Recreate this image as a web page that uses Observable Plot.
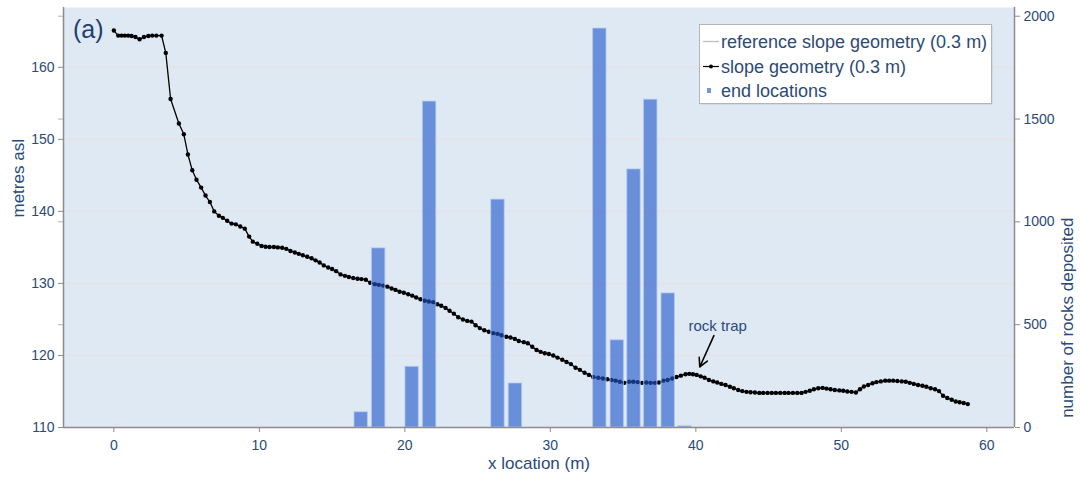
<!DOCTYPE html>
<html><head><meta charset="utf-8">
<script src="https://cdn.jsdelivr.net/npm/d3@7"></script>
<script src="https://cdn.jsdelivr.net/npm/@observablehq/plot@0.6"></script>
<style>
body{margin:0;background:#fff;}
#wrap{position:relative;width:1080px;height:485px;font-family:"Liberation Sans",Arial,sans-serif;}
#legend{position:absolute;left:699px;top:24px;width:296px;height:83px;}
</style></head>
<body><div id="wrap"></div>
<script>
// ---- data ----
const slopeX = [0.00,0.30,0.53,0.76,0.99,1.22,1.49,1.77,2.07,2.37,2.64,2.92,3.28,3.57,3.90,4.47,4.81,5.09,5.39,5.68,6.00,6.30,6.60,6.90,7.22,7.49,7.79,8.09,8.39,8.69,9.00,9.30,9.55,
9.86,10.15,10.43,10.70,11.00,11.27,11.57,11.85,12.14,12.44,12.71,12.99,13.29,13.59,13.86,14.14,14.43,14.73,15.00,15.28,15.58,15.88,16.15,16.45,16.75,17.02,17.32,17.62,17.94,18.21,18.51,
18.80,19.09,19.36,19.64,19.93,20.23,20.51,20.78,21.08,21.37,21.65,21.95,22.23,22.50,22.80,23.07,23.37,23.67,23.99,24.29,24.58,24.86,25.15,25.46,25.77,26.08,26.37,26.65,26.97,27.26,27.56,27.83,28.18,28.45,
28.76,29.05,29.33,29.62,29.90,30.20,30.49,30.82,31.11,31.41,31.73,32.03,32.35,32.65,32.95,33.29,33.61,33.91,34.20,34.48,34.78,35.08,35.40,35.70,36.00,36.30,36.60,36.89,37.19,37.46,37.76,38.06,38.38,38.67,38.97,39.29,39.55,39.80,
40.06,40.33,40.60,40.90,41.20,41.47,41.75,42.04,42.34,42.61,42.91,43.19,43.48,43.76,44.06,44.36,44.63,44.93,45.22,45.50,45.80,46.10,46.37,46.67,46.97,47.26,47.54,47.83,48.11,48.41,48.71,48.98,49.26,49.55,49.86,
50.13,50.41,50.70,51.00,51.28,51.55,51.84,52.14,52.41,52.71,53.01,53.28,53.56,53.85,54.15,54.43,54.70,54.98,55.27,55.57,55.84,56.14,56.44,56.71,56.99,57.28,57.58,57.86,58.13,58.41,58.69];
const slopeY = [165.1,164.4,164.4,164.4,164.4,164.35,164.2,163.9,164.2,164.35,164.4,164.4,164.4,162.0,155.6,152.2,150.7,147.9,145.7,144.4,143.3,142.2,141.3,140.0,139.4,139.1,138.7,138.3,138.2,137.9,137.6,136.5,135.8,
135.5,135.2,135.1,135.05,135.05,135.0,134.95,134.8,134.5,134.3,134.1,133.9,133.7,133.5,133.2,132.9,132.5,132.2,132.0,131.7,131.25,131.05,130.9,130.75,130.65,130.6,130.5,130.1,129.9,129.8,129.7,
129.55,129.3,129.1,128.85,128.7,128.5,128.3,128.05,127.8,127.6,127.5,127.4,127.1,126.9,126.6,126.2,125.8,125.3,125.0,124.8,124.7,124.2,123.8,123.5,123.3,123.1,123.0,122.8,122.6,122.5,122.3,122.0,121.85,121.7,
121.2,120.75,120.5,120.3,120.2,120.0,119.7,119.4,119.1,118.8,118.3,118.0,117.6,117.3,117.0,116.9,116.8,116.7,116.6,116.5,116.35,116.2,116.35,116.35,116.3,116.2,116.25,116.2,116.2,116.25,116.5,116.6,116.8,117.0,117.2,117.4,117.45,117.4,
117.3,117.1,116.9,116.6,116.4,116.25,116.05,115.9,115.65,115.45,115.2,115.05,114.95,114.9,114.85,114.8,114.8,114.8,114.8,114.8,114.8,114.8,114.8,114.8,114.8,114.8,114.95,115.1,115.3,115.45,115.5,115.4,115.3,115.2,115.15,
115.1,115.0,114.95,114.85,115.3,115.7,115.9,116.15,116.3,116.4,116.5,116.5,116.5,116.45,116.4,116.35,116.2,116.05,115.9,115.8,115.65,115.45,115.3,115.05,114.4,114.1,113.85,113.6,113.5,113.4,113.25];

const binCentres = [17.0, 18.2, 20.5, 21.7, 26.4, 27.6, 33.4, 34.6, 35.75, 36.9, 38.1, 39.25];
const rockCounts = [74, 871, 295, 1585, 1108, 214, 1940, 424, 1255, 1594, 652, 6];

const xTicks = [0, 10, 20, 30, 40, 50, 60];
const metresTicks = [110, 120, 130, 140, 150, 160];
const countTicks = [0, 500, 1000, 1500, 2000];

const noteLabel = [{x: 41.5, y: 124.05, text: "rock trap"}];
const noteArrow = [{x1: 41.24, y1: 122.75, x2: 40.27, y2: 118.4}];

const legendLabels = ["reference slope geometry (0.3 m)", "slope geometry (0.3 m)", "end locations"];

// ---- layout ----
const xDomain = [-3.46, 61.9];
const yDomain = [110, 168.3];
const countMax = 2000, countTop = 167.09;           // where 2000 rocks sits on the metres scale
const k = (countTop - yDomain[0]) / countMax;        // metres per rock (secondary axis)
const toY = c => yDomain[0] + c * k;
const halfW = 0.46;
const navy = "#2b4a78";
const axisGrey = "#8c8c8c";

const slope = slopeX.map((x, i) => ({x, y: slopeY[i]}));
const bars = binCentres.map((x, i) => ({x, n: rockCounts[i]}));

const plot = Plot.plot({
  width: 1080, height: 485,
  marginTop: 7, marginBottom: 58, marginLeft: 63, marginRight: 66,
  style: {fontFamily: "Liberation Sans, Arial, sans-serif", background: "#fff", color: navy},
  x: {domain: xDomain},
  y: {domain: yDomain},
  marks: [
    Plot.frame({fill: "#dfe9f4", stroke: "none"}),
    Plot.gridY({ticks: metresTicks.slice(1), stroke: "#ecdfe2", strokeOpacity: 1}),
    Plot.line(slope, {x: "x", y: "y", stroke: "#000", strokeWidth: 1.3}),
    Plot.dot(slope, {x: "x", y: "y", r: 2.2, fill: "#000", stroke: "none"}),
    Plot.rectY(bars, {
      x1: d => d.x - halfW, x2: d => d.x + halfW,
      y1: () => yDomain[0], y2: d => toY(d.n),
      fill: "#2057cc", fillOpacity: 0.62, stroke: "#b4c9ef", strokeOpacity: 0.7, strokeWidth: 1
    }),
    Plot.ruleY([yDomain[0]], {stroke: axisGrey, strokeWidth: 1.5}),
    Plot.ruleX([xDomain[0], xDomain[1]], {stroke: axisGrey, strokeWidth: 1.5}),
    Plot.axisX({ticks: xTicks, tickSize: 5, tickPadding: 8, fontSize: 14, stroke: axisGrey, fill: navy, label: null}),
    Plot.axisY({anchor: "left", ticks: metresTicks, tickSize: 5, tickPadding: 4, fontSize: 14, stroke: axisGrey, fill: navy, label: null}),
    Plot.axisY({anchor: "left", ticks: countTicks.slice(1).map(toY), tickSize: 5, tickFormat: () => "", stroke: "#b0b0b0", label: null}),
    Plot.axisY({anchor: "right", ticks: countTicks.map(toY), tickSize: 5, tickPadding: 4, fontSize: 14,
      tickFormat: v => String(Math.round((v - yDomain[0]) / k)), stroke: axisGrey, fill: navy, label: null}),
    Plot.text(["(a)"], {frameAnchor: "top-left", dx: 9.5, dy: 13, lineAnchor: "top", textAnchor: "start", fontSize: 25, fill: "#1f3f6e"}),
    Plot.text(noteLabel, {x: "x", y: "y", text: "text", fontSize: 15, fill: navy}),
    Plot.arrow(noteArrow, {x1: "x1", y1: "y1", x2: "x2", y2: "y2", stroke: "#000", strokeWidth: 1.6, headLength: 9, headAngle: 55}),
    Plot.text(["x location (m)"], {frameAnchor: "bottom", dy: 41, fontSize: 17, fill: navy}),
    Plot.text(["metres asl"], {frameAnchor: "left", dx: -45, rotate: -90, fontSize: 17, fill: navy}),
    Plot.text(["number of rocks deposited"], {frameAnchor: "right", dx: 53, rotate: -90, fontSize: 17, fill: navy})
  ]
});

const wrap = document.getElementById("wrap");
wrap.appendChild(plot);

// legend (inside the plot area, top right)
const lg = d3.select(wrap).append("svg").attr("id", "legend").attr("width", 296).attr("height", 83);
lg.append("rect").attr("x", 1.5).attr("y", 1.5).attr("width", 292).attr("height", 79)
  .attr("fill", "#000").attr("opacity", 0.12);
lg.append("rect").attr("x", 0.5).attr("y", 0.5).attr("width", 292).attr("height", 79)
  .attr("fill", "#fff").attr("stroke", "#b4b4b4");
const rows = [17.5, 42.5, 66.5];
lg.append("line").attr("x1", 4).attr("x2", 20).attr("y1", rows[0]).attr("y2", rows[0]).attr("stroke", "#bdbdbd").attr("stroke-width", 1.3);
lg.append("line").attr("x1", 4).attr("x2", 20).attr("y1", rows[1]).attr("y2", rows[1]).attr("stroke", "#000").attr("stroke-width", 1.2);
lg.append("circle").attr("cx", 12).attr("cy", rows[1]).attr("r", 2).attr("fill", "#000");
lg.append("rect").attr("x", 8).attr("y", rows[2] - 2.5).attr("width", 4).attr("height", 5).attr("fill", "#2057cc").attr("fill-opacity", 0.62);
lg.selectAll("text.lab").data(legendLabels).join("text").attr("class", "lab")
  .attr("x", 22).attr("y", (d, i) => rows[i]).attr("dy", "0.35em")
  .attr("font-size", 18).attr("fill", navy).attr("font-family", "Liberation Sans, Arial, sans-serif")
  .text(d => d);
</script></body></html>
